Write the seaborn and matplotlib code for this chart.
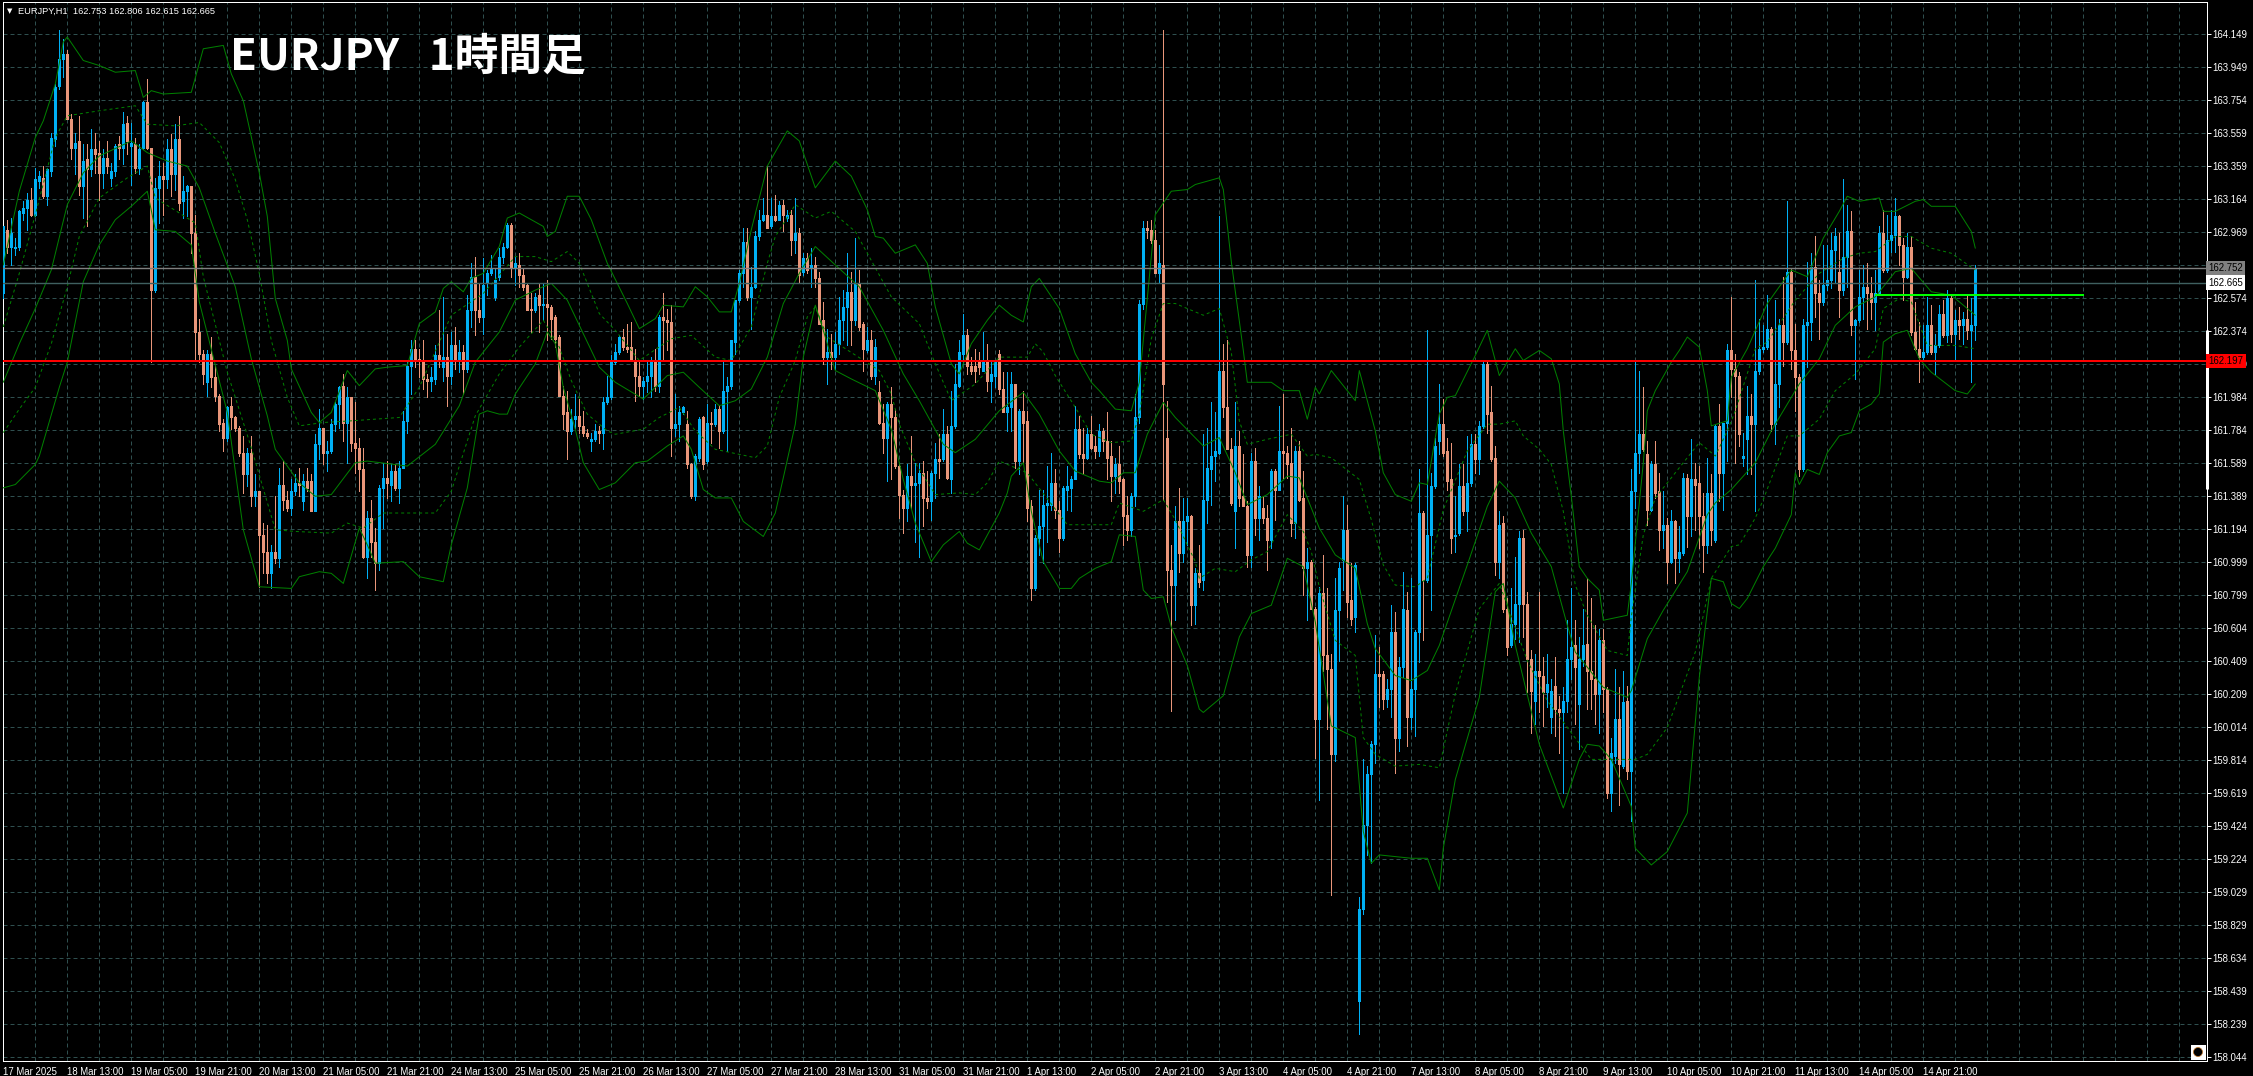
import matplotlib
matplotlib.use('Agg')
import matplotlib.pyplot as plt
import numpy as np
import seaborn as sns
from matplotlib.patches import Ellipse, Rectangle

# EURJPY H1 candles (10 bars per row)
opens = [
    162.60,162.98,162.88,162.87,162.88,163.08,163.11,163.16,163.07,163.27,
    163.29,163.18,163.33,163.52,163.84,164.00,164.03,163.64,163.47,163.51,
    163.24,163.40,163.34,163.46,163.44,163.32,163.41,163.29,163.33,163.49,
    163.47,163.62,163.48,163.49,163.35,163.47,163.74,163.47,162.62,163.23,
    163.30,163.28,163.46,163.31,163.52,163.15,163.21,163.24,162.96,162.37,
    162.24,162.07,162.24,162.10,161.99,161.83,161.74,161.93,161.86,161.80,
    161.65,161.52,161.65,161.39,161.42,161.16,161.06,160.93,161.06,161.02,
    161.46,161.37,161.32,161.42,161.47,161.36,161.48,161.48,161.30,161.70,
    161.80,161.65,161.66,161.82,161.94,162.05,161.83,161.98,161.71,161.68,
    161.55,161.03,161.26,161.12,160.99,161.44,161.50,161.46,161.54,161.44,
    161.56,161.84,162.17,162.27,162.21,162.20,162.09,162.08,162.09,162.23,
    162.16,162.22,162.11,162.29,162.21,162.25,162.15,162.50,162.70,162.50,
    162.46,162.66,162.72,162.58,162.70,162.82,162.88,163.01,162.75,162.77,
    162.71,162.65,162.51,162.50,162.59,162.53,162.54,162.52,162.46,162.34,
    161.99,161.89,161.78,161.85,161.87,161.81,161.77,161.72,161.73,161.78,
    161.77,161.95,161.98,162.19,162.25,162.34,162.28,162.28,162.20,162.11,
    162.05,162.08,162.11,162.19,162.05,162.46,162.44,162.43,161.80,161.82,
    161.89,161.82,161.58,161.39,161.62,161.86,161.60,161.83,161.82,161.91,
    161.78,162.02,162.05,162.31,162.56,162.72,162.91,162.58,162.64,162.94,
    163.04,163.07,163.00,163.06,163.04,163.13,163.05,163.07,162.92,162.96,
    162.73,162.81,162.75,162.77,162.69,162.44,162.22,162.25,162.22,162.30,
    162.44,162.52,162.61,162.44,162.66,162.42,162.26,162.32,162.11,162.01,
    161.83,161.74,161.94,161.86,161.57,161.40,161.32,161.51,161.46,161.47,
    161.53,161.38,161.36,161.53,161.61,161.61,161.76,161.49,161.81,162.05,
    162.24,162.35,162.17,162.17,162.19,162.14,162.19,162.08,162.11,162.24,
    162.03,161.89,161.92,162.06,161.60,161.90,161.84,161.33,160.84,161.14,
    161.21,161.34,161.34,161.47,161.31,161.14,161.43,161.44,161.49,161.79,
    161.64,161.62,161.76,161.69,161.66,161.78,161.72,161.63,161.51,161.58,
    161.49,161.28,161.19,161.39,161.86,162.54,162.99,162.98,162.92,162.72,
    162.77,161.74,160.95,160.86,161.24,161.05,161.24,161.27,160.74,160.93,
    160.89,161.37,161.55,161.63,161.65,162.14,161.92,161.67,161.30,161.69,
    161.39,161.33,161.04,161.60,161.26,161.32,161.26,161.13,161.54,161.43,
    161.66,161.65,161.59,161.23,161.66,161.38,160.96,161.00,160.72,160.06,
    160.81,160.44,160.36,159.85,160.71,161.01,161.19,160.77,160.67,158.38,
    158.93,159.43,159.73,159.91,160.33,160.33,160.18,160.24,160.58,159.95,
    160.37,160.71,160.07,160.24,160.58,161.29,160.89,161.16,161.45,161.72,
    161.82,161.66,161.49,161.15,161.17,161.45,161.30,161.47,161.70,161.61,
    161.81,162.18,161.89,161.62,161.00,161.23,160.72,160.50,160.63,160.75,
    161.14,160.75,160.42,160.17,160.35,160.32,160.22,160.07,160.26,160.12,
    160.10,160.17,160.42,160.50,160.15,160.42,160.51,160.35,160.30,160.21,
    160.53,160.24,159.62,159.84,160.06,159.78,160.17,159.75,161.42,161.65,
    161.76,161.64,161.31,161.58,161.42,161.19,161.22,161.00,161.24,161.02,
    161.05,161.50,161.27,161.49,161.47,161.27,161.10,161.41,161.13,161.81,
    161.53,161.83,162.26,162.15,162.11,161.62,161.73,161.87,161.82,162.14,
    162.27,162.28,162.39,161.82,162.06,162.41,162.31,162.73,162.26,162.10,
    161.55,162.41,162.43,162.76,162.60,162.55,162.65,162.68,162.86,162.73,
    162.62,162.82,162.97,162.41,162.44,162.58,162.64,162.60,162.55,162.60,
    162.96,162.74,162.92,162.95,163.06,162.89,162.70,162.88,162.37,162.27,
    162.22,162.25,162.41,162.25,162.29,162.48,162.35,162.57,162.36,162.44,
    162.41,162.45,162.38,162.41]
highs = [
    163.00,163.04,163.05,162.93,163.10,163.15,163.20,163.23,163.35,163.33,
    163.36,163.35,163.56,163.85,164.17,164.12,164.05,163.67,163.56,163.66,
    163.49,163.49,163.58,163.56,163.51,163.46,163.51,163.38,163.49,163.54,
    163.68,163.66,163.62,163.53,163.49,163.75,163.88,163.47,163.29,163.39,
    163.38,163.52,163.55,163.61,163.66,163.30,163.25,163.24,163.07,162.45,
    162.26,162.26,162.34,162.17,162.00,161.85,161.93,161.98,161.87,161.81,
    161.75,161.68,161.75,161.52,161.42,161.23,161.22,161.10,161.39,161.56,
    161.60,161.42,161.49,161.52,161.56,161.52,161.56,161.52,161.76,161.91,
    161.80,161.72,161.85,161.95,162.05,162.12,162.04,161.98,161.95,161.74,
    161.68,161.30,161.37,161.20,161.46,161.59,161.60,161.58,161.58,161.60,
    161.90,162.20,162.32,162.32,162.27,162.32,162.12,162.16,162.29,162.50,
    162.58,162.36,162.37,162.40,162.32,162.29,162.59,162.78,162.82,162.66,
    162.81,162.74,162.83,162.75,162.87,162.90,163.02,163.02,162.82,162.84,
    162.75,162.66,162.60,162.60,162.66,162.66,162.68,162.53,162.47,162.35,
    162.05,162.02,161.91,162.00,161.97,161.90,161.79,161.77,161.82,161.81,
    161.98,162.11,162.23,162.30,162.35,162.39,162.42,162.43,162.27,162.19,
    162.10,162.19,162.22,162.27,162.47,162.60,162.51,162.53,162.00,161.93,
    161.93,161.90,161.59,161.64,161.86,161.87,161.94,161.89,161.94,161.93,
    162.19,162.10,162.32,162.56,162.74,162.99,162.99,162.76,162.97,163.10,
    163.17,163.36,163.17,163.19,163.15,163.16,163.10,163.10,163.17,162.99,
    162.84,162.84,162.87,162.82,162.73,162.55,162.39,162.36,162.37,162.58,
    162.62,162.84,162.73,162.93,162.74,162.43,162.40,162.38,162.33,162.08,
    161.94,161.95,162.04,161.91,161.58,161.43,161.58,161.75,161.59,161.59,
    161.60,161.54,161.54,161.71,161.76,161.91,161.81,162.02,162.18,162.32,
    162.48,162.39,162.22,162.27,162.25,162.37,162.30,162.20,162.20,162.26,
    162.13,162.13,162.13,162.06,161.91,162.02,161.90,161.37,161.16,161.43,
    161.43,161.57,161.65,161.55,161.36,161.45,161.57,161.51,161.93,161.87,
    161.80,161.80,161.87,161.75,161.82,161.80,161.89,161.72,161.62,161.69,
    161.50,161.39,161.41,162.00,162.56,163.03,163.03,163.04,162.98,162.89,
    164.17,161.96,161.10,161.33,161.44,161.38,161.38,161.28,160.96,161.10,
    161.76,161.80,161.95,161.89,163.06,162.30,162.32,161.74,161.95,161.78,
    161.64,161.36,161.65,161.68,161.45,161.39,161.34,161.55,161.55,161.93,
    162.00,161.69,161.80,161.69,161.72,161.54,161.08,161.01,160.73,160.85,
    161.04,160.84,160.45,160.90,161.00,161.39,161.34,160.99,160.99,159.00,
    159.82,159.78,159.93,160.56,160.49,160.35,160.30,160.74,160.70,160.43,
    160.94,160.82,160.90,160.59,161.55,161.30,162.38,161.53,161.74,162.06,
    161.97,161.74,161.71,161.39,161.58,161.58,161.75,161.76,161.76,161.84,
    162.19,162.19,162.05,161.69,161.30,161.27,160.78,160.84,161.03,161.18,
    161.19,160.82,160.47,160.45,160.82,160.43,160.45,160.30,160.43,160.20,
    160.25,160.65,160.84,160.65,160.55,160.72,160.90,160.78,160.62,160.60,
    160.60,160.25,159.95,160.36,160.25,160.35,160.26,161.55,162.19,162.14,
    162.04,161.72,161.60,161.72,161.53,161.42,161.26,161.31,161.25,161.21,
    161.53,161.52,161.73,161.59,161.57,161.41,161.62,161.52,161.82,161.94,
    161.83,162.30,162.58,162.24,162.13,161.77,162.05,162.00,162.68,162.45,
    162.41,162.59,162.40,162.56,162.45,162.70,163.15,162.75,162.42,162.12,
    162.45,162.79,162.84,162.94,162.68,162.89,162.89,162.96,162.99,162.96,
    163.28,163.13,163.09,162.45,162.74,162.77,162.78,162.70,162.74,163.00,
    163.10,163.07,163.10,163.17,163.07,162.93,162.96,162.94,162.55,162.43,
    162.41,162.58,162.53,162.36,162.53,162.56,162.62,162.59,162.50,162.52,
    162.49,162.59,162.57,162.77]
lows = [
    162.57,162.84,162.77,162.83,162.86,163.04,162.98,163.06,163.06,163.23,
    163.17,163.13,163.30,163.48,163.82,163.89,163.64,163.40,163.31,163.19,
    163.05,163.00,163.30,163.32,163.16,163.23,163.32,163.24,163.30,163.40,
    163.37,163.43,163.25,163.32,163.31,163.46,163.46,162.19,162.61,163.02,
    163.07,163.23,163.18,163.22,163.10,163.05,163.06,162.84,162.20,162.19,
    162.06,161.99,162.04,161.96,161.78,161.66,161.72,161.79,161.78,161.63,
    161.41,161.45,161.33,161.33,160.85,160.93,160.87,160.84,160.99,160.97,
    161.31,161.30,161.28,161.40,161.39,161.31,161.42,161.30,161.30,161.61,
    161.58,161.54,161.65,161.78,161.80,161.72,161.59,161.66,161.53,161.42,
    161.02,160.90,161.03,160.83,160.95,161.20,161.38,161.36,161.43,161.35,
    161.56,161.77,162.00,162.16,162.10,162.03,161.98,162.02,162.06,162.16,
    162.08,161.93,162.06,162.15,162.13,162.00,162.13,162.40,162.35,162.43,
    162.36,162.59,162.71,162.56,162.68,162.78,162.87,162.70,162.65,162.64,
    162.62,162.50,162.37,162.49,162.37,162.44,162.32,162.33,162.28,161.99,
    161.79,161.61,161.76,161.80,161.77,161.75,161.74,161.66,161.72,161.71,
    161.67,161.94,161.97,162.18,162.24,162.26,162.25,162.20,161.96,161.99,
    161.97,162.01,161.98,162.02,162.01,162.20,162.26,161.63,161.75,161.72,
    161.88,161.56,161.38,161.37,161.60,161.55,161.59,161.71,161.81,161.68,
    161.77,161.66,162.03,162.24,162.55,162.64,162.56,162.39,162.63,162.92,
    163.03,162.99,162.99,163.03,163.04,162.97,163.03,162.83,162.84,162.66,
    162.71,162.72,162.64,162.64,162.42,162.18,162.06,162.15,162.15,162.24,
    162.32,162.29,162.29,162.41,162.38,162.14,162.25,162.09,162.06,161.82,
    161.65,161.48,161.49,161.56,161.26,161.17,161.24,161.32,161.12,161.03,
    161.21,161.32,161.25,161.38,161.50,161.60,161.49,161.41,161.80,162.04,
    162.18,162.12,162.12,162.07,162.12,162.14,162.02,161.95,162.04,162.00,
    161.89,161.78,161.78,161.56,161.52,161.59,161.24,160.77,160.83,161.04,
    160.99,161.12,161.31,161.26,161.06,161.13,161.31,161.30,161.49,161.62,
    161.52,161.61,161.67,161.62,161.63,161.66,161.49,161.36,161.41,161.41,
    161.10,161.13,161.15,161.33,161.83,162.51,162.93,162.90,162.72,162.67,
    161.37,160.76,160.11,160.65,160.94,161.00,161.10,160.62,160.63,160.85,
    160.83,161.23,161.34,161.48,161.64,161.86,161.67,161.34,161.08,161.33,
    161.33,160.97,160.97,161.16,161.13,161.23,160.95,161.08,161.25,161.43,
    161.50,161.50,161.15,161.14,161.36,160.80,160.65,160.72,159.83,159.58,
    160.35,160.00,159.01,159.81,160.41,160.83,160.67,160.62,160.58,158.18,
    158.90,159.25,159.20,159.80,160.13,160.12,160.13,160.07,159.74,159.87,
    160.31,159.90,160.00,159.96,160.40,160.53,160.88,160.71,161.44,161.64,
    161.63,161.43,161.05,161.06,161.16,161.28,161.18,161.45,161.53,161.52,
    161.80,161.77,161.60,160.92,160.90,160.70,160.44,160.49,160.54,160.52,
    160.55,160.22,159.98,160.03,160.10,160.02,160.13,159.98,159.96,159.86,
    159.62,160.10,160.30,160.03,159.88,160.38,160.12,160.12,160.03,159.98,
    160.10,159.59,159.51,159.80,159.55,159.77,159.70,159.45,161.32,161.53,
    161.66,161.22,161.30,161.38,161.07,161.08,160.87,160.99,160.87,160.94,
    161.04,161.09,161.15,161.19,161.08,160.94,161.05,161.10,161.12,161.36,
    161.31,161.60,161.98,161.59,161.69,161.57,161.52,161.52,161.30,162.12,
    162.25,162.27,161.78,161.70,161.92,162.17,162.30,162.15,161.90,161.51,
    161.54,162.16,162.32,162.46,162.33,162.53,162.62,162.63,162.67,162.46,
    162.59,162.64,162.35,162.09,162.43,162.45,162.39,162.45,162.38,162.59,
    162.73,162.73,162.85,162.85,162.77,162.56,162.69,162.35,162.26,162.07,
    162.20,162.24,162.24,162.12,162.28,162.34,162.31,162.31,162.20,162.33,
    162.30,162.33,162.07,162.32]
closes = [
    163.00,162.88,162.96,162.88,163.09,163.11,163.16,163.07,163.28,163.30,
    163.18,163.34,163.53,163.83,164.00,164.03,163.64,163.47,163.50,163.24,
    163.39,163.34,163.46,163.43,163.32,163.41,163.36,163.33,163.48,163.47,
    163.61,163.51,163.50,163.35,163.46,163.74,163.47,162.62,163.23,163.30,
    163.28,163.46,163.31,163.52,163.14,163.21,163.24,162.96,162.37,162.24,
    162.12,162.24,162.10,161.99,161.82,161.74,161.92,161.86,161.80,161.65,
    161.52,161.65,161.39,161.42,161.16,161.06,160.93,161.06,161.02,161.46,
    161.37,161.32,161.42,161.47,161.46,161.48,161.44,161.30,161.70,161.80,
    161.65,161.66,161.82,161.94,162.04,161.83,161.98,161.71,161.68,161.55,
    161.03,161.26,161.12,160.99,161.44,161.50,161.47,161.54,161.44,161.56,
    161.84,162.17,162.27,162.21,162.20,162.09,162.08,162.10,162.23,162.20,
    162.22,162.11,162.29,162.21,162.25,162.15,162.50,162.70,162.50,162.46,
    162.65,162.72,162.75,162.68,162.82,162.88,163.01,162.76,162.78,162.71,
    162.64,162.50,162.50,162.58,162.53,162.54,162.52,162.45,162.33,161.99,
    161.88,161.78,161.85,161.87,161.81,161.77,161.75,161.73,161.78,161.77,
    161.95,161.98,162.19,162.25,162.34,162.28,162.27,162.20,162.11,162.05,
    162.08,162.11,162.19,162.05,162.46,162.44,162.43,161.80,161.82,161.89,
    161.92,161.58,161.39,161.63,161.85,161.58,161.83,161.82,161.91,161.78,
    162.02,162.05,162.32,162.56,162.72,162.91,162.58,162.64,162.94,163.04,
    163.07,162.99,163.06,163.04,163.13,163.07,163.07,162.92,162.96,162.71,
    162.81,162.74,162.77,162.69,162.42,162.22,162.25,162.22,162.30,162.44,
    162.52,162.61,162.44,162.66,162.40,162.27,162.32,162.11,162.28,161.83,
    161.74,161.94,161.86,161.57,161.40,161.32,161.51,161.46,161.47,161.53,
    161.38,161.36,161.53,161.61,161.60,161.76,161.50,161.81,162.06,162.25,
    162.35,162.17,162.14,162.14,162.16,162.19,162.08,162.12,162.19,162.03,
    161.89,161.92,162.06,161.60,161.90,161.83,161.32,160.84,161.14,161.21,
    161.34,161.35,161.47,161.31,161.14,161.44,161.45,161.49,161.79,161.64,
    161.62,161.76,161.68,161.66,161.78,161.72,161.62,161.51,161.58,161.48,
    161.27,161.19,161.39,161.86,162.54,162.99,162.98,162.92,162.72,162.78,
    162.06,160.95,160.86,161.24,161.05,161.24,161.27,160.74,160.93,160.88,
    161.37,161.56,161.63,161.66,162.14,161.92,161.67,161.35,161.69,161.38,
    161.33,161.04,161.60,161.26,161.39,161.26,161.13,161.54,161.43,161.66,
    161.65,161.58,161.23,161.66,161.37,160.96,161.00,160.72,160.06,160.81,
    160.44,160.36,159.85,160.71,160.96,161.19,160.76,160.66,160.98,158.93,
    159.43,159.73,159.91,160.33,160.32,160.18,160.24,160.58,159.95,160.37,
    160.72,160.07,160.24,160.58,161.29,160.89,161.16,161.45,161.69,161.82,
    161.65,161.48,161.14,161.16,161.45,161.30,161.47,161.70,161.61,161.81,
    162.18,161.88,161.61,161.00,161.22,160.72,160.49,160.63,160.75,161.14,
    160.75,160.42,160.23,160.35,160.32,160.22,160.27,160.23,160.12,160.10,
    160.17,160.42,160.49,160.37,160.42,160.50,160.35,160.30,160.21,160.53,
    160.24,159.62,159.86,160.06,159.79,160.16,159.75,161.42,161.65,161.76,
    161.67,161.31,161.58,161.41,161.19,161.22,161.00,161.24,161.02,161.06,
    161.50,161.27,161.49,161.46,161.27,161.10,161.41,161.19,161.81,161.53,
    161.83,162.26,162.15,162.11,161.76,161.63,161.87,161.82,162.14,162.27,
    162.28,162.39,161.82,162.06,162.41,162.31,162.73,162.26,162.10,161.55,
    162.41,162.43,162.76,162.60,162.55,162.65,162.68,162.86,162.94,162.62,
    162.82,162.97,162.41,162.44,162.58,162.64,162.60,162.55,162.60,162.96,
    162.74,162.92,162.95,163.06,162.89,162.70,162.88,162.37,162.27,162.22,
    162.25,162.41,162.25,162.29,162.48,162.35,162.57,162.36,162.44,162.41,
    162.45,162.38,162.41,162.75]

# indicator bands, read at the turning points of each curve
upper_bars = [0,4,8,10,13,15,16,20,24,28,33,35,37,40,47,50,55,57,60,64,66,68,71,72,77,79,82,86,89,93,96,101,
    104,108,110,112,115,117,120,124,126,129,135,136,138,141,144,147,151,156,159,163,165,170,173,176,179,182,
    184,187,191,196,199,203,208,212,216,218,220,223,228,231,233,237,239,242,246,249,252,255,257,259,264,268,
    272,274,278,282,284,288,292,296,298,304,305,307,310,311,317,320,324,326,328,329,332,338,339,343,345,348,
    352,354,356,359,361,363,368,371,374,378,380,384,387,389,390,392,394,396,399,400,406,407,410,411,413,417,
    419,421,424,426,427,431,432,436,441,444,447,451,455,459,461,464,469,470,473,478,480,482,488,492,493]
upper_vals = [162.77,163.21,163.53,163.63,163.85,164.10,164.13,163.99,163.96,163.92,163.93,163.77,163.81,163.79,
    163.80,164.06,164.08,163.91,163.75,163.32,163.06,162.57,162.32,162.15,161.89,161.83,161.89,162.14,162.05,
    162.15,162.16,162.17,162.42,162.49,162.63,162.67,162.61,162.69,162.72,162.88,163.05,163.08,163.00,162.94,
    162.97,163.18,163.18,163.04,162.78,162.54,162.39,162.45,162.53,162.52,162.64,162.58,162.49,162.49,162.66,
    162.98,163.36,163.57,163.51,163.23,163.39,163.30,163.10,162.94,162.93,162.84,162.89,162.78,162.52,162.18,
    162.12,162.30,162.44,162.53,162.47,162.43,162.64,162.69,162.51,162.24,162.07,162.02,161.91,161.90,162.07,
    163.07,163.21,163.22,163.25,163.29,163.22,162.79,162.26,162.07,162.07,162.02,162.02,161.85,162.04,162.00,
    162.14,161.96,162.14,161.78,161.53,161.40,161.36,161.47,161.46,161.88,161.98,161.99,162.23,162.38,162.11,
    162.27,162.20,162.26,162.21,162.06,161.78,161.39,160.97,160.90,160.83,160.65,160.68,160.87,161.59,161.90,
    162.02,162.19,162.26,162.34,162.28,162.02,161.81,161.84,162.10,162.27,162.54,162.64,162.74,162.70,162.93,
    163.09,163.18,163.15,163.17,163.09,163.09,163.15,163.16,163.12,163.12,162.97,162.87]
upper_dash_bars = [0,4,8,13,16,24,33,36,43,49,54,58,61,64,67,71,74,80,87,99,104,112,120,128,133,137,141,144,149,
    153,159,167,172,178,182,187,191,193,198,203,207,213,216,222,229,233,237,243,249,256,258,260,263,268,272,277,
    282,284,287,290,293,300,304,307,309,311,316,322,326,328,332,339,342,345,348,353,356,360,366,371,374,378,380,
    384,387,390,393,396,401,406,407,410,413,418,424,428,431,433,438,441,448,454,460,464,468,473,477,482,487,493]
upper_dash_vals = [162.40,162.72,163.07,163.53,163.66,163.69,163.72,163.61,163.60,163.62,163.50,163.28,163.04,
    162.72,162.32,161.98,161.81,161.83,161.84,161.86,162.04,162.47,162.60,162.82,162.82,162.79,162.85,162.78,
    162.48,162.38,162.20,162.33,162.35,162.22,162.20,162.40,162.78,162.94,163.13,163.05,163.09,162.97,162.84,
    162.58,162.42,162.18,161.96,162.06,162.22,162.22,162.30,162.25,162.11,161.92,161.76,161.71,161.72,161.88,
    162.33,162.54,162.54,162.47,162.51,162.25,161.84,161.70,161.73,161.76,161.63,161.64,161.62,161.49,161.25,
    160.98,160.86,160.85,160.90,161.31,161.66,161.82,161.82,161.84,161.75,161.67,161.58,161.30,160.86,160.68,
    160.47,160.44,160.67,161.16,161.38,161.53,161.71,161.63,161.78,161.90,162.27,162.31,162.56,162.72,162.81,
    162.84,162.85,162.94,162.94,162.87,162.84,162.74]
mid_bars = [0,4,8,12,16,20,24,32,36,41,46,49,53,58,62,66,68,74,78,82,88,91,101,108,114,118,124,128,133,137,141,145,
    149,153,160,163,166,170,174,179,183,187,191,195,199,203,208,214,220,225,229,235,238,243,249,255,259,264,268,
    274,277,280,283,286,290,293,300,304,308,311,316,321,324,329,333,338,341,343,348,352,356,359,366,371,374,378,
    382,387,391,393,400,406,407,411,415,421,426,428,432,438,442,446,449,454,458,463,468,473,477,482,487,493]
mid_vals = [162.07,162.30,162.51,162.74,163.13,163.32,163.42,163.51,163.44,163.39,163.36,163.23,162.96,162.64,
    162.21,161.87,161.67,161.47,161.39,161.40,161.59,161.60,161.57,161.70,161.93,162.19,162.37,162.56,162.62,
    162.66,162.56,162.36,162.16,162.07,161.97,162.04,162.11,162.13,162.04,161.93,161.96,162.03,162.22,162.54,
    162.72,162.88,162.77,162.64,162.38,162.12,161.96,161.70,161.65,161.73,161.90,162.01,161.88,161.66,161.54,
    161.48,161.47,161.53,161.53,161.76,161.95,161.86,161.69,161.74,161.53,161.34,161.40,161.51,161.50,161.20,
    161.04,160.96,160.63,160.48,160.32,160.29,160.35,160.50,160.98,161.33,161.48,161.38,161.17,160.97,160.62,
    160.46,160.25,160.19,160.23,160.54,160.71,160.94,161.28,161.35,161.43,161.59,161.78,161.94,162.06,162.21,
    162.41,162.52,162.58,162.73,162.75,162.61,162.59,162.47]
lower_dash_bars = [0,4,8,12,16,19,24,31,36,38,48,50,56,62,68,73,82,86,90,95,108,112,118,124,129,135,139,142,146,151,
    153,160,164,169,173,178,184,188,191,194,198,201,203,206,219,222,224,228,233,239,243,246,249,256,266,277,279,
    285,290,293,298,299,303,308,312,316,321,325,327,329,333,338,340,343,348,354,359,363,369,374,381,386,397,408,
    411,416,423,427,432,434,438,440,446,449,454,458,463,468,470,474,477,481,488,493]
lower_dash_vals = [161.77,161.91,162.04,162.30,162.64,162.94,163.17,163.29,163.36,163.17,163.02,162.70,162.13,161.68,
    161.19,161.18,161.17,161.23,161.20,161.29,161.29,161.42,161.87,162.12,162.28,162.44,162.28,162.08,161.88,
    161.78,161.76,161.79,161.86,161.92,161.78,161.67,161.64,161.62,161.69,161.98,162.20,162.46,162.52,162.34,
    162.14,162.00,161.82,161.59,161.40,161.41,161.40,161.47,161.60,161.53,161.22,161.22,161.35,161.30,161.37,
    161.25,161.00,160.90,160.96,160.94,161.01,161.06,161.28,161.18,161.06,160.85,160.53,160.44,159.95,159.85,
    159.78,159.79,159.77,160.21,160.72,160.87,160.41,160.17,159.82,159.82,159.85,160.01,160.46,160.90,161.09,
    161.10,161.26,161.37,161.75,161.75,161.85,162.02,162.12,162.27,162.51,162.57,162.55,162.29,162.29,162.27]
lower_bars = [0,3,8,9,14,16,20,24,28,32,36,38,43,47,49,56,60,64,72,74,79,82,85,89,91,93,100,104,110,112,116,119,121,
    124,126,128,133,136,138,140,143,145,149,153,158,161,166,170,172,175,178,182,185,190,193,195,198,200,203,205,208,
    212,218,222,225,228,232,235,239,241,244,249,251,252,255,257,260,262,264,267,269,273,277,279,283,285,287,290,292,
    296,299,300,305,309,312,317,321,325,328,332,338,340,342,344,352,356,359,360,363,369,373,375,378,384,390,394,396,
    399,402,407,408,412,416,421,424,427,430,432,434,436,440,443,447,448,449,451,454,456,459,462,464,467,469,470,473,
    476,479,482,488,491,493]
lower_vals = [161.44,161.46,161.58,161.63,162.04,162.19,162.67,162.89,163.04,163.12,163.21,162.98,162.97,162.89,162.55,
    161.89,161.19,160.85,160.84,160.91,160.94,160.93,160.87,161.20,161.10,160.99,161.00,160.91,160.88,161.10,161.44,
    161.88,161.90,161.88,161.88,162.00,162.18,162.37,162.30,162.04,161.79,161.59,161.43,161.47,161.59,161.60,161.69,
    161.75,161.67,161.43,161.38,161.38,161.24,161.15,161.29,161.50,161.82,162.22,162.53,162.38,162.14,162.09,162.02,
    161.79,161.49,161.23,161.00,161.10,161.18,161.11,161.07,161.29,161.41,161.51,161.59,161.30,161.00,160.92,160.84,
    160.84,160.90,160.96,161.00,161.16,161.15,160.83,160.78,160.79,160.61,160.38,160.12,160.10,160.20,160.55,160.69,
    160.74,161.02,160.97,160.64,160.02,159.95,159.39,159.20,159.25,159.23,159.23,159.04,159.29,159.70,160.19,160.82,
    160.87,160.50,159.91,159.53,159.82,159.91,159.90,159.82,159.54,159.29,159.19,159.27,159.50,160.31,160.90,160.88,
    160.75,160.72,160.78,160.97,161.08,161.28,161.53,161.46,161.55,161.52,161.65,161.75,161.77,161.90,161.94,162.00,
    162.31,162.36,162.38,162.21,162.13,162.02,162.00,162.06]

price_ticks = [164.149,163.949,163.754,163.559,163.359,163.164,162.969,162.769,162.574,162.374,
    162.179,161.984,161.784,161.589,161.389,161.194,160.999,160.799,160.604,160.409,160.209,
    160.014,159.814,159.619,159.424,159.224,159.029,158.829,158.634,158.439,158.239,158.044]
time_labels = ['17 Mar 2025','18 Mar 13:00','19 Mar 05:00','19 Mar 21:00','20 Mar 13:00',
    '21 Mar 05:00','21 Mar 21:00','24 Mar 13:00','25 Mar 05:00','25 Mar 21:00','26 Mar 13:00',
    '27 Mar 05:00','27 Mar 21:00','28 Mar 13:00','31 Mar 05:00','31 Mar 21:00','1 Apr 13:00',
    '2 Apr 05:00','2 Apr 21:00','3 Apr 13:00','4 Apr 05:00','4 Apr 21:00','7 Apr 13:00',
    '8 Apr 05:00','8 Apr 21:00','9 Apr 13:00','10 Apr 05:00','10 Apr 21:00','11 Apr 13:00',
    '14 Apr 05:00','14 Apr 21:00']

bid_line = 162.665
ask_line = 162.752
red_line = 162.197
lime_line = 162.593

W, H = 2253, 1076
BLUE, SALMON, GREEN, GRID = '#00B0F5', '#E9967A', '#008000', '#2F4F4F'
PX = 0.72  # one pixel in points at dpi 100

sns.set_theme(style='dark', rc={'axes.facecolor': 'black', 'figure.facecolor': 'black'})
plt.rcParams['font.family'] = ['Liberation Sans', 'DejaVu Sans']

fig = plt.figure(figsize=(W / 100, H / 100), dpi=100)
ax = fig.add_axes([2.5 / W, 1 - 1060.5 / H, (2206.5 - 2.5) / W, (1060.5 - 1.5) / H])

bars = np.arange(len(opens))
o, h, l, c = map(np.array, (opens, highs, lows, closes))
up = c >= o

ax.set_xlim((2.5 - 3.3) / 4, (2206.5 - 3.3) / 4)
ax.set_ylim(162.197 - (1060.5 - 361) / 167.6, 162.197 + (361 - 1.5) / 167.6)

# grid, ticks
ax.set_axisbelow(True)
ax.set_xticks(np.arange(0, 551, 16))
ax.set_xticks(np.arange(8, 551, 16), minor=True)
ax.set_xticklabels(time_labels + [''] * (len(ax.get_xticks()) - len(time_labels)))
ax.yaxis.tick_right()
ax.set_yticks(price_ticks)
# 162.769 sits fully behind the 162.752 price box in the screenshot
ax.set_yticklabels(['' if p == 162.769 else '%.3f' % p for p in price_ticks])
ax.grid(which='both', color=GRID, linewidth=PX, linestyle=(0, (4, 3)))
ax.tick_params(axis='x', which='major', colors='white', length=3, width=PX, labelsize=6.9, pad=1.5)
ax.tick_params(axis='x', which='minor', length=0)
ax.tick_params(axis='y', colors='white', length=3, width=PX, labelsize=6.9, pad=1.5)
for lab in ax.get_xticklabels():
    lab.set_ha('left')
for side in ax.spines.values():
    side.set_color('white')
    side.set_linewidth(PX)

# candles
ax.vlines(bars[up], l[up], h[up], color=BLUE, linewidth=PX, antialiased=False, zorder=3)
ax.vlines(bars[~up], l[~up], h[~up], color=SALMON, linewidth=PX, antialiased=False, zorder=3)
ax.vlines(bars[up], o[up], c[up], color=BLUE, linewidth=3 * PX, antialiased=False, zorder=3)
ax.vlines(bars[~up], c[~up], o[~up], color=SALMON, linewidth=3 * PX, antialiased=False, zorder=3)

# bands
for xs, vals in ((upper_bars, upper_vals), (mid_bars, mid_vals), (lower_bars, lower_vals)):
    sns.lineplot(x=xs, y=vals, ax=ax, color=GREEN, linewidth=PX, estimator=None, zorder=4)
for xs, vals in ((upper_dash_bars, upper_dash_vals), (lower_dash_bars, lower_dash_vals)):
    sns.lineplot(x=xs, y=vals, ax=ax, color=GREEN, linewidth=PX, linestyle=(0, (3, 3)), estimator=None, zorder=4)

# price lines
ax.axhline(ask_line, color='#808080', linewidth=1.4 * PX, zorder=5)
ax.axhline(bid_line, color='#3F6060', linewidth=1.4 * PX, zorder=5)
ax.axhline(red_line, color='#FF0000', linewidth=2 * PX, zorder=5)
ax.hlines(lime_line, (1875 - 3.3) / 4, (2084 - 3.3) / 4, color='#00FF00', linewidth=2 * PX, zorder=5)

# scroll marker on the price axis
ax.vlines((2206.5 - 3.3) / 4, 161.433, 162.382, color='white', linewidth=3 * PX, clip_on=False, zorder=6)

# price boxes
trans = ax.get_yaxis_transform()
for price, face, txt in ((ask_line, '#808080', 'black'), (bid_line, 'white', 'black'), (red_line, '#FF0000', 'black')):
    ax.text(1.0008, price, '%.3f' % price, transform=trans, color=txt, fontsize=6.9, va='center', ha='left',
            clip_on=False, zorder=8,
            bbox=dict(facecolor=face, edgecolor='none', boxstyle='square,pad=0.25'))

# header and title
fig.text(7 / W, 1 - 13 / H, '\u25bc', color='white', fontsize=5, family='DejaVu Sans')
fig.text(18 / W, 1 - 14 / H, 'EURJPY,H1  162.753 162.806 162.615 162.665', color='white', fontsize=6.7)
fig.text(230 / W, 1 - 70 / H, 'EURJPY   1\u6642\u9593\u8db3', color='white', fontsize=31.5, fontweight='bold',
         family=['Noto Sans CJK JP', 'DejaVu Sans'])

# chart shift icon, bottom right
fig.add_artist(Rectangle((2191 / W, 1 - 1060 / H), 15 / W, 15 / H, transform=fig.transFigure, facecolor='white', edgecolor='none'))
fig.add_artist(Ellipse((2198 / W, 1 - 1052 / H), 9 / W, 9 / H, transform=fig.transFigure, facecolor='black', edgecolor='#C07020', linewidth=0.5))

fig.savefig('out.png', dpi=100, facecolor='black')
